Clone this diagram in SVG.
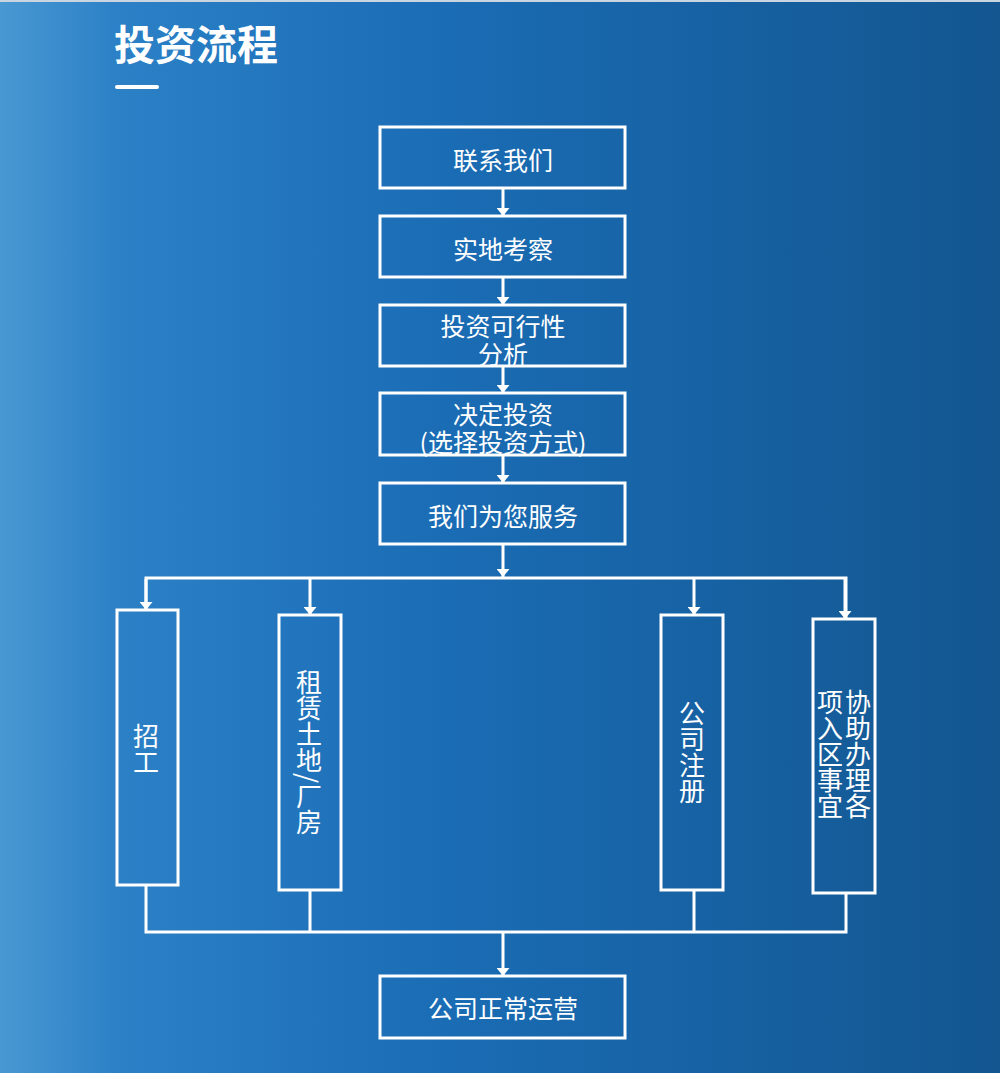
<svg xmlns="http://www.w3.org/2000/svg" width="1000" height="1073" viewBox="0 0 1000 1073">
<defs>
<linearGradient id="bg" x1="0" y1="0" x2="1" y2="0">
<stop offset="0" stop-color="#4898d2"/>
<stop offset="0.12" stop-color="#2b80c6"/>
<stop offset="0.45" stop-color="#1a6cb4"/>
<stop offset="1" stop-color="#135690"/>
</linearGradient>
<marker id="ah" markerUnits="userSpaceOnUse" markerWidth="8" markerHeight="13" refX="8" refY="6.5" orient="auto" viewBox="0 0 8 13">
<path d="M0,0 L8,6.5 L0,13 Z" fill="#ffffff"/>
</marker>
<style>
.box{fill:none;stroke:#ffffff;stroke-width:3}
.t{font-family:"Noto Sans CJK SC","Noto Sans",sans-serif;font-size:25px;fill:#ffffff;text-anchor:middle;dominant-baseline:central}
.v{font-family:"Noto Sans CJK SC","Noto Sans",sans-serif;font-size:26px;fill:#ffffff;text-anchor:middle;writing-mode:vertical-rl}
.ln{fill:none;stroke:#ffffff;stroke-width:3}
.ar{fill:none;stroke:#ffffff;stroke-width:3;marker-end:url(#ah)}
</style>
</defs>
<rect x="0" y="0" width="1000" height="1073" fill="url(#bg)"/>
<rect x="0" y="0" width="1000" height="2" fill="#c9d6e2"/>
<g id="title">
<text x="114" y="60" style="font-family:'Noto Sans CJK SC','Noto Sans',sans-serif;font-size:41px;font-weight:bold;fill:#ffffff">投资流程</text>
<rect x="115" y="85" width="44" height="4" rx="2" fill="#ffffff"/>
</g>
<g id="connectors">
<path class="ar" d="M503,188 V216"/>
<path class="ar" d="M503,277 V305"/>
<path class="ar" d="M503,366 V393"/>
<path class="ar" d="M503,455 V483"/>
<path class="ar" d="M503,544 V577"/>
<path class="ln" d="M146,610 V578 H846 V619"/>
<path class="ar" d="M146,579 V610"/>
<path class="ar" d="M310,579 V615"/>
<path class="ar" d="M694,579 V615"/>
<path class="ar" d="M845,579 V619"/>
<path class="ln" d="M146,885 V932 H846 V893 M310,890 V932 M694,890 V932"/>
<path class="ar" d="M503,932 V976"/>
</g>
<g id="n1"><rect class="box" x="380" y="127" width="245" height="61"/><text class="t" x="503" y="159">联系我们</text></g>
<g id="n2"><rect class="box" x="380" y="216" width="245" height="61"/><text class="t" x="503" y="248">实地考察</text></g>
<g id="n3"><rect class="box" x="380" y="305" width="245" height="61"/><text class="t" x="503" y="325"><tspan x="503" y="325">投资可行性</tspan><tspan x="503" y="353">分析</tspan></text></g>
<g id="n4"><rect class="box" x="380" y="393" width="245" height="62"/><text class="t" x="503" y="413"><tspan x="503" y="413">决定投资</tspan><tspan x="503" y="441">(选择投资方式)</tspan></text></g>
<g id="n5"><rect class="box" x="380" y="483" width="245" height="61"/><text class="t" x="503" y="515">我们为您服务</text></g>
<g id="n6"><rect class="box" x="117" y="610" width="61" height="275"/><text class="v" x="146" y="749">招工</text></g>
<g id="n7"><rect class="box" x="279" y="615" width="62" height="275"/><text class="v" x="309" y="752">租赁土地/厂房</text></g>
<g id="n8"><rect class="box" x="661" y="615" width="62" height="275"/><text class="v" x="692" y="752">公司注册</text></g>
<g id="n9"><rect class="box" x="813" y="619" width="62" height="274"/><text class="v" x="858" y="754"><tspan x="858" y="754">协助办理各</tspan></text><text class="v" x="830" y="754">项入区事宜</text></g>
<g id="n10"><rect class="box" x="380" y="976" width="245" height="62"/><text class="t" x="503" y="1007">公司正常运营</text></g>
</svg>
